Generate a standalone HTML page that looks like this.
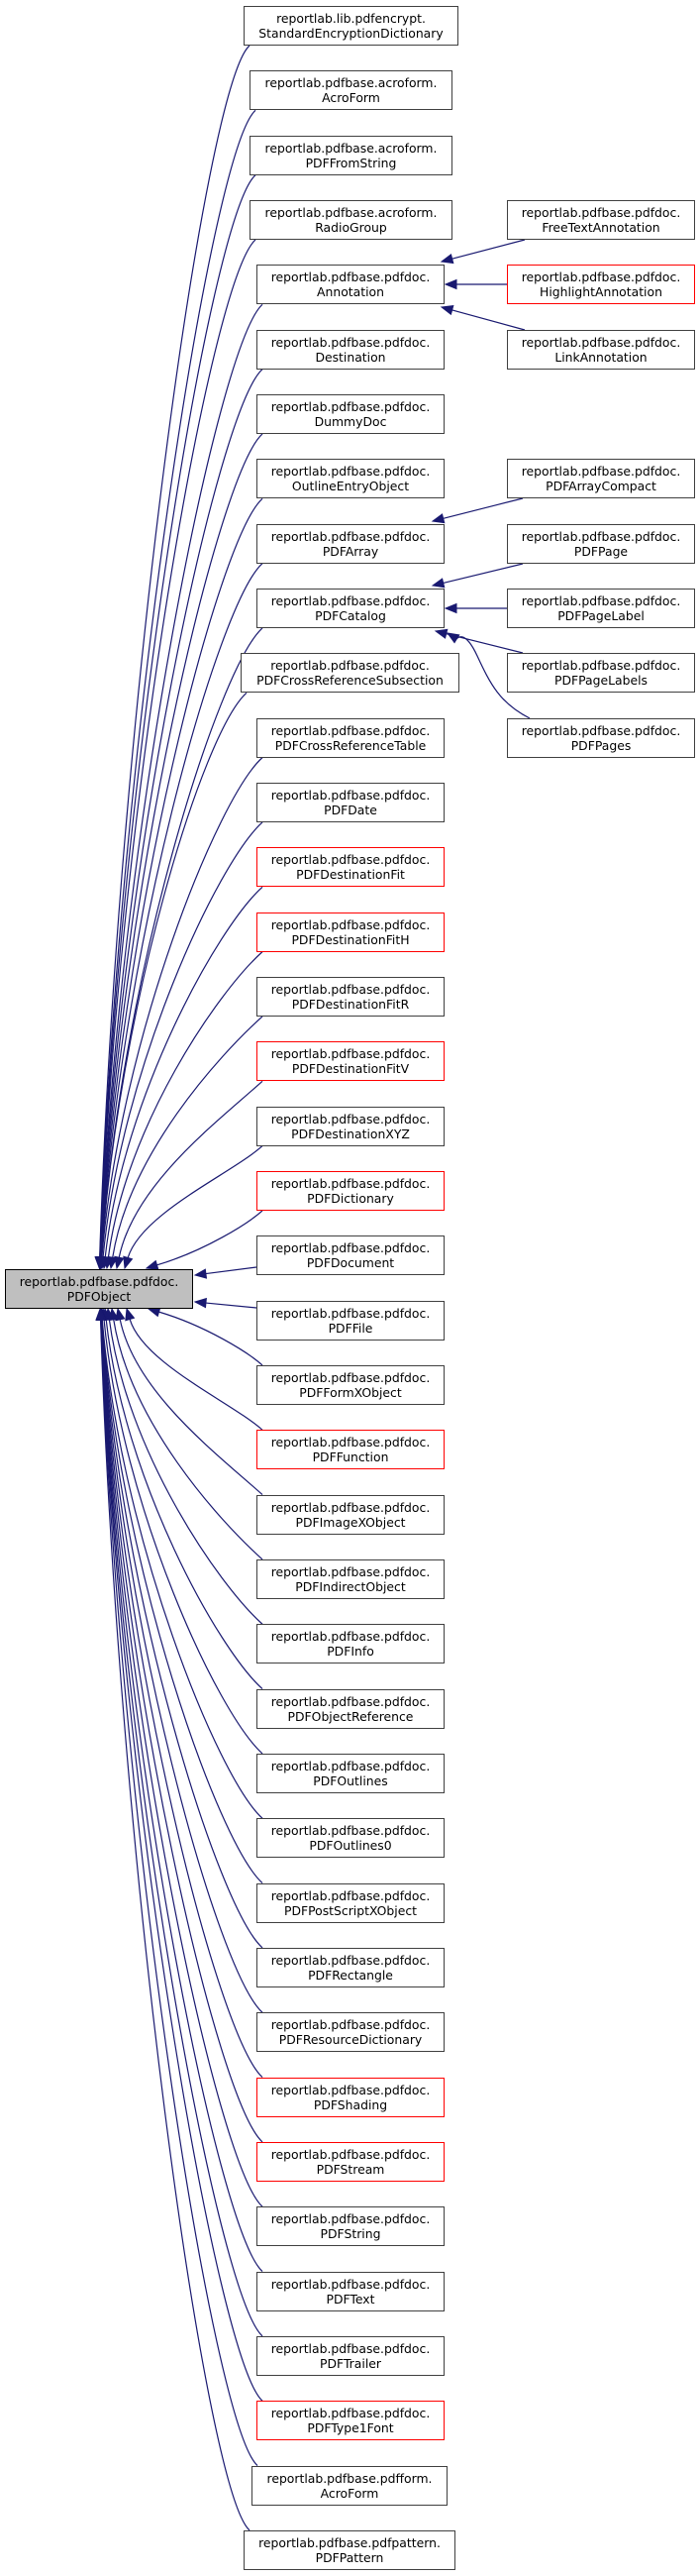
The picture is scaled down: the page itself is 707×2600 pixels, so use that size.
<!DOCTYPE html>
<html><head><meta charset="utf-8">
<style>
html,body{margin:0;padding:0;background:#fff;}
body{width:707px;height:2600px;position:relative;overflow:hidden;font-family:"DejaVu Sans","Liberation Sans",sans-serif;}
.b{position:absolute;box-sizing:border-box;height:40px;border:1.3px solid #404040;background:#fff;font-size:12.4px;line-height:15px;text-align:center;color:#000;padding-top:4px;white-space:nowrap;}
.r{border-color:#ff0000;}
.g{background:#bfbfbf;border-color:#000;}
svg{position:absolute;left:0;top:0;}
</style></head><body>
<svg id="s" width="707" height="2600"></svg>
<div class="b g" style="left:5px;top:1281px;width:190px;">reportlab.pdfbase.pdfdoc.<br>PDFObject</div>
<div class="b" style="left:246px;top:6px;width:217px;">reportlab.lib.pdfencrypt.<br>StandardEncryptionDictionary</div>
<div class="b" style="left:252px;top:71px;width:205px;">reportlab.pdfbase.acroform.<br>AcroForm</div>
<div class="b" style="left:252px;top:137px;width:205px;">reportlab.pdfbase.acroform.<br>PDFFromString</div>
<div class="b" style="left:252px;top:202px;width:205px;">reportlab.pdfbase.acroform.<br>RadioGroup</div>
<div class="b" style="left:259px;top:267px;width:190px;">reportlab.pdfbase.pdfdoc.<br>Annotation</div>
<div class="b" style="left:259px;top:333px;width:190px;">reportlab.pdfbase.pdfdoc.<br>Destination</div>
<div class="b" style="left:259px;top:398px;width:190px;">reportlab.pdfbase.pdfdoc.<br>DummyDoc</div>
<div class="b" style="left:259px;top:463px;width:190px;">reportlab.pdfbase.pdfdoc.<br>OutlineEntryObject</div>
<div class="b" style="left:259px;top:529px;width:190px;">reportlab.pdfbase.pdfdoc.<br>PDFArray</div>
<div class="b" style="left:259px;top:594px;width:190px;">reportlab.pdfbase.pdfdoc.<br>PDFCatalog</div>
<div class="b" style="left:243px;top:659px;width:221px;">reportlab.pdfbase.pdfdoc.<br>PDFCrossReferenceSubsection</div>
<div class="b" style="left:259px;top:725px;width:190px;">reportlab.pdfbase.pdfdoc.<br>PDFCrossReferenceTable</div>
<div class="b" style="left:259px;top:790px;width:190px;">reportlab.pdfbase.pdfdoc.<br>PDFDate</div>
<div class="b r" style="left:259px;top:855px;width:190px;">reportlab.pdfbase.pdfdoc.<br>PDFDestinationFit</div>
<div class="b r" style="left:259px;top:921px;width:190px;">reportlab.pdfbase.pdfdoc.<br>PDFDestinationFitH</div>
<div class="b" style="left:259px;top:986px;width:190px;">reportlab.pdfbase.pdfdoc.<br>PDFDestinationFitR</div>
<div class="b r" style="left:259px;top:1051px;width:190px;">reportlab.pdfbase.pdfdoc.<br>PDFDestinationFitV</div>
<div class="b" style="left:259px;top:1117px;width:190px;">reportlab.pdfbase.pdfdoc.<br>PDFDestinationXYZ</div>
<div class="b r" style="left:259px;top:1182px;width:190px;">reportlab.pdfbase.pdfdoc.<br>PDFDictionary</div>
<div class="b" style="left:259px;top:1247px;width:190px;">reportlab.pdfbase.pdfdoc.<br>PDFDocument</div>
<div class="b" style="left:259px;top:1313px;width:190px;">reportlab.pdfbase.pdfdoc.<br>PDFFile</div>
<div class="b" style="left:259px;top:1378px;width:190px;">reportlab.pdfbase.pdfdoc.<br>PDFFormXObject</div>
<div class="b r" style="left:259px;top:1443px;width:190px;">reportlab.pdfbase.pdfdoc.<br>PDFFunction</div>
<div class="b" style="left:259px;top:1509px;width:190px;">reportlab.pdfbase.pdfdoc.<br>PDFImageXObject</div>
<div class="b" style="left:259px;top:1574px;width:190px;">reportlab.pdfbase.pdfdoc.<br>PDFIndirectObject</div>
<div class="b" style="left:259px;top:1639px;width:190px;">reportlab.pdfbase.pdfdoc.<br>PDFInfo</div>
<div class="b" style="left:259px;top:1705px;width:190px;">reportlab.pdfbase.pdfdoc.<br>PDFObjectReference</div>
<div class="b" style="left:259px;top:1770px;width:190px;">reportlab.pdfbase.pdfdoc.<br>PDFOutlines</div>
<div class="b" style="left:259px;top:1835px;width:190px;">reportlab.pdfbase.pdfdoc.<br>PDFOutlines0</div>
<div class="b" style="left:259px;top:1901px;width:190px;">reportlab.pdfbase.pdfdoc.<br>PDFPostScriptXObject</div>
<div class="b" style="left:259px;top:1966px;width:190px;">reportlab.pdfbase.pdfdoc.<br>PDFRectangle</div>
<div class="b" style="left:259px;top:2031px;width:190px;">reportlab.pdfbase.pdfdoc.<br>PDFResourceDictionary</div>
<div class="b r" style="left:259px;top:2097px;width:190px;">reportlab.pdfbase.pdfdoc.<br>PDFShading</div>
<div class="b r" style="left:259px;top:2162px;width:190px;">reportlab.pdfbase.pdfdoc.<br>PDFStream</div>
<div class="b" style="left:259px;top:2227px;width:190px;">reportlab.pdfbase.pdfdoc.<br>PDFString</div>
<div class="b" style="left:259px;top:2293px;width:190px;">reportlab.pdfbase.pdfdoc.<br>PDFText</div>
<div class="b" style="left:259px;top:2358px;width:190px;">reportlab.pdfbase.pdfdoc.<br>PDFTrailer</div>
<div class="b r" style="left:259px;top:2423px;width:190px;">reportlab.pdfbase.pdfdoc.<br>PDFType1Font</div>
<div class="b" style="left:254px;top:2489px;width:198px;">reportlab.pdfbase.pdfform.<br>AcroForm</div>
<div class="b" style="left:246px;top:2554px;width:214px;">reportlab.pdfbase.pdfpattern.<br>PDFPattern</div>

<div class="b" style="left:512px;top:202px;width:190px;">reportlab.pdfbase.pdfdoc.<br>FreeTextAnnotation</div>
<div class="b r" style="left:512px;top:267px;width:190px;">reportlab.pdfbase.pdfdoc.<br>HighlightAnnotation</div>
<div class="b" style="left:512px;top:333px;width:190px;">reportlab.pdfbase.pdfdoc.<br>LinkAnnotation</div>
<div class="b" style="left:512px;top:463px;width:190px;">reportlab.pdfbase.pdfdoc.<br>PDFArrayCompact</div>
<div class="b" style="left:512px;top:529px;width:190px;">reportlab.pdfbase.pdfdoc.<br>PDFPage</div>
<div class="b" style="left:512px;top:594px;width:190px;">reportlab.pdfbase.pdfdoc.<br>PDFPageLabel</div>
<div class="b" style="left:512px;top:659px;width:190px;">reportlab.pdfbase.pdfdoc.<br>PDFPageLabels</div>
<div class="b" style="left:512px;top:725px;width:190px;">reportlab.pdfbase.pdfdoc.<br>PDFPages</div>

<script>
(function(){
var lefts=[246,252,252,252,259,259,259,259,259,259,243,259,259,259,259,259,259,259,259,259,259,259,259,259,259,259,259,259,259,259,259,259,259,259,259,259,259,259,254,246];
var s=document.getElementById('s'),out='',C='#191970';
function arrow(tx,ty,fx,fy){var dx=tx-fx,dy=ty-fy,l=Math.sqrt(dx*dx+dy*dy)||1;dx/=l;dy/=l;var L=11,W=4.5;
var bx=tx-dx*L,by=ty-dy*L;out+='<polygon fill="'+C+'" stroke="'+C+'" points="'+tx+','+ty+' '+(bx-dy*W)+','+(by+dx*W)+' '+(bx+dy*W)+','+(by-dx*W)+'"/>';return [bx,by];}
function path(d){out+='<path d="'+d+'" fill="none" stroke="'+C+'" stroke-width="1.2"/>';}
var tipsUp={18:148,17:126,16:118,15:112,14:108,13:105,12:103};
var tipsDn=[150,128,119,113,109,106,104];
for(var i=0;i<40;i++){var L=lefts[i],bt=6+65.33*i,bb=bt+40,b;
 if(i==19){b=arrow(197,1287,259,1279);path('M259,1279L'+b[0]+','+b[1]);continue;}
 if(i==20){b=arrow(197,1314,259,1320);path('M259,1320L'+b[0]+','+b[1]);continue;}
 var up=i<19, sx=L+6, sy=up?bb:bt, tx, ty;
 if(up){var t=18-i;tx=tipsUp[i]||(100+Math.max(0,3-t*0.15));ty=1280;}
 else{var t2=i-21;tx=tipsDn[t2]||(100+Math.max(0,3-t2*0.1));ty=1321;}
 var dy=ty-sy, ady=Math.abs(dy), sg=dy>0?1:-1, dxx=sx-tx;
 var k=Math.min(45,ady*0.25,dxx*0.4);
 var p1x=sx-k,p1y=sy+sg*k*0.9;
 var p2x=tx+dxx*0.12,p2y=ty-sg*ady*0.45;
 if(ady<80){p2x=tx+dxx*0.5;p2y=ty-sg*ady*0.3;}
 b=arrow(tx,ty,p2x,p2y);
 path('M'+sx+','+sy+'C'+p1x+','+p1y+' '+p2x+','+p2y+' '+b[0]+','+b[1]);
}
var st=[[530,242,446,264],[512,287,450,287],[530,333,446,310],[528,503,437,526],[528,569,437,591],[512,614,450,614],[528,659,440,637]];
st.forEach(function(e){var bb2=arrow(e[2],e[3],e[0],e[1]);path('M'+e[0]+','+e[1]+'L'+bb2[0]+','+bb2[1]);});
var b3=arrow(452,639,478,655);path('M535,725C505,710 495,690 482,662S'+b3[0]+','+b3[1]+' '+b3[0]+','+b3[1]);
s.innerHTML=out;
})();
</script>
</body></html>
